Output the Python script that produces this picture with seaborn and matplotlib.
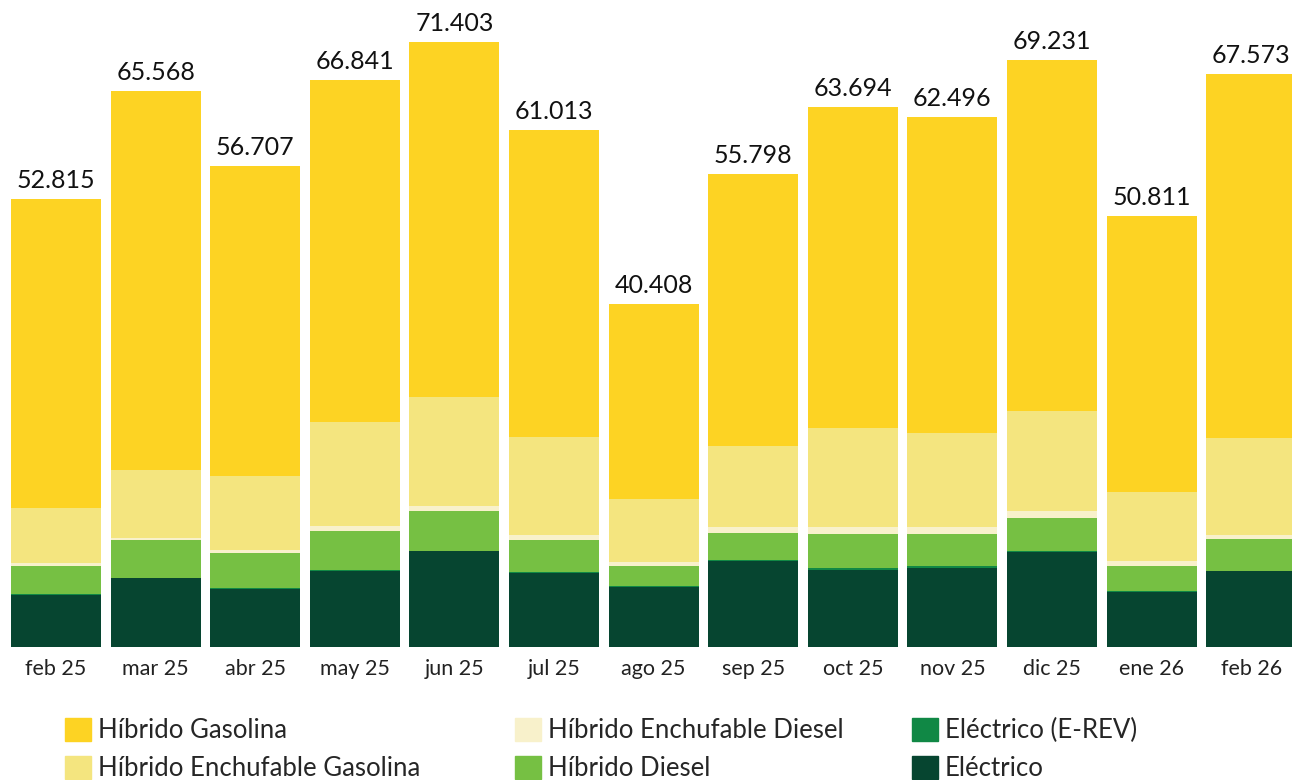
import numpy as np
import pandas as pd
import matplotlib
matplotlib.use("Agg")
import matplotlib.pyplot as plt
import seaborn as sns

# Monthly registrations by powertrain
months = ["feb 25", "mar 25", "abr 25", "may 25", "jun 25", "jul 25", "ago 25",
          "sep 25", "oct 25", "nov 25", "dic 25", "ene 26", "feb 26"]
totals = [52815, 65568, 56707, 66841, 71403, 61013, 40408,
          55798, 63694, 62496, 69231, 50811, 67573]
electrico = [6100, 8100, 6840, 8930, 11290, 8700, 7050, 10110, 9050, 9290, 11180, 6460, 8930]
electrico_erev = [120, 50, 120, 120, 30, 120, 120, 120, 240, 240, 120, 120, 30]
hibrido_diesel = [3300, 4430, 4100, 4600, 4720, 3780, 2360, 3190, 4010, 3780, 3890, 2950, 3750]
phev_diesel = [350, 240, 350, 590, 590, 590, 470, 710, 830, 830, 830, 590, 470]
phev_gasolina = [6490, 8020, 8730, 12270, 12860, 11560, 7430, 9560, 11680, 11090, 11800, 8140, 11450]

series = ["Eléctrico", "Eléctrico (E-REV)", "Híbrido Diesel",
          "Híbrido Enchufable Diesel", "Híbrido Enchufable Gasolina", "Híbrido Gasolina"]
colors = {
    "Eléctrico": "#064530",
    "Eléctrico (E-REV)": "#108845",
    "Híbrido Diesel": "#76C043",
    "Híbrido Enchufable Diesel": "#F8F1CB",
    "Híbrido Enchufable Gasolina": "#F4E57F",
    "Híbrido Gasolina": "#FDD323",
}

df = pd.DataFrame({
    "month": months,
    "Eléctrico": electrico,
    "Eléctrico (E-REV)": electrico_erev,
    "Híbrido Diesel": hibrido_diesel,
    "Híbrido Enchufable Diesel": phev_diesel,
    "Híbrido Enchufable Gasolina": phev_gasolina,
})
df["Híbrido Gasolina"] = np.array(totals) - df[series[:-1]].sum(axis=1)

# cumulative heights so each layer can be drawn on top of the previous one
cum = df[series].cumsum(axis=1)
cum["month"] = df["month"]

sns.set_style("white")
plt.rcParams["font.family"] = ["Lato", "DejaVu Sans"]

fig = plt.figure(figsize=(12.92, 7.8), dpi=100)
ax = fig.add_axes([0, (780 - 646.7) / 780, 1, 646.7 / 780])

handles = {}
for name in reversed(series):
    sns.barplot(data=cum, x="month", y=name, color=colors[name], width=0.904,
                saturation=1, linewidth=0, ax=ax)
    handles[name] = plt.Rectangle((0, 0), 1, 1, color=colors[name])

# total labels above bars
for i, t in enumerate(totals):
    ax.annotate(f"{t:,}".replace(",", "."), xy=(i, t), xytext=(0, 5),
                textcoords="offset points", ha="center", va="bottom",
                fontsize=18, color="#111111")

ax.set_xlim(-0.562, 12.41)
ax.set_ylim(0, 646.7 * 118)
ax.set_xlabel("")
ax.set_ylabel("")
ax.set_yticks([])
ax.tick_params(axis="x", length=0, pad=9, labelsize=15.5, labelcolor="#222222")
sns.despine(left=True, bottom=True)

# legend: three columns placed by hand to follow the original layout
columns = [["Híbrido Gasolina", "Híbrido Enchufable Gasolina"],
           ["Híbrido Enchufable Diesel", "Híbrido Diesel"],
           ["Eléctrico (E-REV)", "Eléctrico"]]
col_x = [65, 515, 912]
for names, x in zip(columns, col_x):
    fig.legend([handles[n] for n in names], names, loc="upper left",
               bbox_to_anchor=(x / 1292, (780 - 718) / 780), frameon=False,
               fontsize=18.5, handlelength=1.0, handleheight=1.0,
               handletextpad=0.28, labelspacing=0.48, borderpad=0, borderaxespad=0)

fig.savefig("out.png", dpi=100)
